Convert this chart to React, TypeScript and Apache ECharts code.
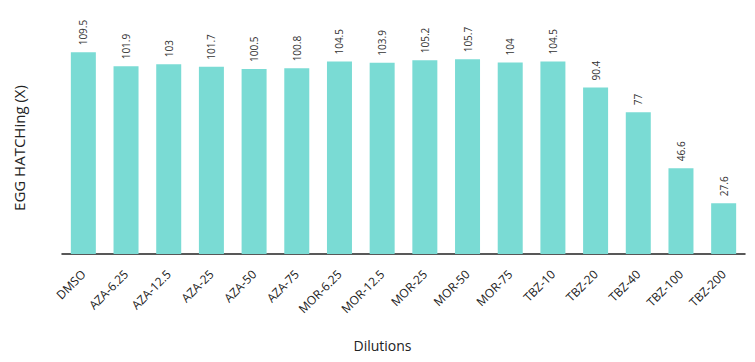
import React, { useEffect, useRef } from "react";
import * as echarts from "echarts";

const categories = ["DMSO", "AZA-6.25", "AZA-12.5", "AZA-25", "AZA-50", "AZA-75", "MOR-6.25", "MOR-12.5", "MOR-25", "MOR-50", "MOR-75", "TBZ-10", "TBZ-20", "TBZ-40", "TBZ-100", "TBZ-200"];
const values = [109.5, 101.9, 103, 101.7, 100.5, 100.8, 104.5, 103.9, 105.2, 105.7, 104, 104.5, 90.4, 77, 46.6, 27.6];

export default function App() {
  const ref = useRef<HTMLDivElement>(null);
  useEffect(() => {
    const chart = echarts.init(ref.current!, null, { renderer: "svg" });
    chart.setOption({
      animation: false,
      grid: { left: 62, right: 10, top: 33, bottom: 108 },
      xAxis: {
        type: "category",
        data: categories,
        name: "Dilutions",
        nameLocation: "middle",
        nameGap: 84,
        nameTextStyle: { fontSize: 14, color: "#222", fontFamily: "Open Sans", padding: [0, 42, 0, 0] },
        axisLine: { lineStyle: { color: "#222", width: 1.5 } },
        axisTick: { show: false },
        axisLabel: { rotate: 45, fontSize: 12, color: "#222", margin: 18, fontFamily: "Open Sans" },
      },
      yAxis: {
        type: "value",
        min: 0,
        max: 120,
        name: "EGG HATCHing (X)",
        nameLocation: "middle",
        nameGap: 36,
        nameTextStyle: { fontSize: 15, color: "#222", fontFamily: "Open Sans", padding: [0, 9, 0, 0] },
        axisLabel: { show: false },
        axisLine: { show: false },
        axisTick: { show: false },
        splitLine: { show: false },
      },
      series: [
        {
          type: "bar",
          data: values,
          barWidth: 25,
          itemStyle: { color: "#7adbd4" },
          label: {
            show: true,
            position: "top",
            rotate: 90,
            align: "left",
            verticalAlign: "middle",
            distance: 7,
            fontSize: 10,
            color: "#333",
            fontFamily: "Open Sans",
          },
        },
      ],
    });
    return () => chart.dispose();
  }, []);
  return <div ref={ref} style={{ width: 755, height: 362, marginLeft: -8, marginTop: -8 }} />;
}
